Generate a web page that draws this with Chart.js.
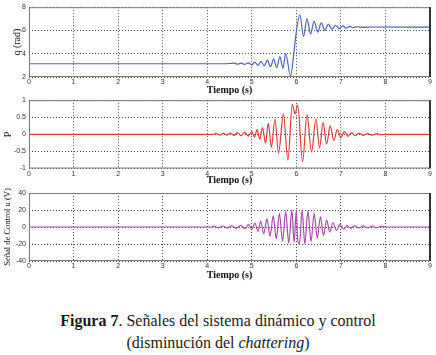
<!DOCTYPE html>
<html>
<head>
<meta charset="utf-8">
<script src="https://cdn.jsdelivr.net/npm/chart.js@4.4.1/dist/chart.umd.min.js"></script>
<style>
  body { margin: 0; background: #fff; width: 436px; height: 355px; position: relative; overflow: hidden; }
  canvas { position: absolute; left: 0; }
  #cap { position: absolute; top: 310px; left: 0; width: 436px; text-align: center;
         font: 16px "Liberation Serif", serif; line-height: 22px; color: #1a1a1a; }
</style>
</head>
<body>
<canvas id="chart_q" width="436" height="96" style="top:0px"></canvas>
<canvas id="chart_p" width="436" height="93" style="top:93px"></canvas>
<canvas id="chart_u" width="436" height="97" style="top:184px"></canvas>
<div id="cap"><b>Figura 7</b>. Señales del sistema dinámico y control<br>(disminución del <i>chattering</i>)</div>
<script>
// time axis (s)
var xTicks = [0, 1, 2, 3, 4, 5, 6, 7, 8, 9];

// q (rad), peaks and troughs
var qTime = [0, 4.4, 4.5, 4.6, 4.68, 4.76, 4.84, 4.92, 5.0, 5.07, 5.14, 5.21, 5.28, 5.35, 5.42, 5.49, 5.56, 5.63, 5.7, 5.76, 5.87,
             5.96, 6.0, 6.08, 6.16, 6.24, 6.32, 6.4, 6.48, 6.56, 6.64, 6.72, 6.8, 6.88, 6.96, 7.04, 7.12, 7.2, 7.28, 7.36, 7.5, 7.7, 9];
var qVal  = [3.14, 3.14, 3.16, 3.2, 3.1, 3.2, 3.08, 3.22, 3.05, 3.28, 3.0, 3.35, 2.95, 3.45, 2.88, 3.55, 2.8, 3.75, 2.75, 4.0, 2.1,
             4.6, 5.9, 7.35, 5.5, 7.0, 5.7, 6.8, 5.85, 6.65, 6.0, 6.55, 6.1, 6.45, 6.15, 6.4, 6.2, 6.35, 6.25, 6.32, 6.27, 6.3, 6.28];
var qTicks = [2, 4, 6, 8];

// P - middle panel
var pTime = [0, 4.1, 4.2, 4.28, 4.36, 4.44, 4.52, 4.6, 4.68, 4.76, 4.84, 4.92, 5.0, 5.06, 5.12, 5.18, 5.24, 5.31, 5.37, 5.44, 5.52,
             5.6, 5.71, 5.81, 5.91, 5.97, 6.03, 6.14, 6.24, 6.34, 6.44, 6.52, 6.6, 6.68, 6.76, 6.84, 6.92, 7.0, 7.08, 7.16, 7.24,
             7.32, 7.4, 7.5, 7.6, 7.7, 7.8, 7.9, 8.0, 9];
var pVal  = [0, 0, 0.02, -0.02, 0.03, -0.02, 0.04, -0.03, 0.05, -0.04, 0.06, -0.05, 0.08, -0.08, 0.14, -0.14, 0.2, -0.26, 0.33, -0.38, 0.45,
             -0.55, 0.6, -0.75, 0.88, 0.6, 0.85, -0.8, 0.58, -0.52, 0.45, -0.4, 0.35, -0.28, 0.25, -0.18, 0.14, -0.1, 0.08, -0.06, 0.05,
             -0.04, 0.03, -0.03, 0.02, -0.02, 0.02, -0.01, 0, 0];
var pTicks = [-1, -0.5, 0, 0.5, 1];

// u (V) - bottom panel
var uTime = [0, 4.1, 4.15, 4.25, 4.35, 4.45, 4.55, 4.65, 4.75, 4.85, 4.93, 5.0, 5.07, 5.14, 5.2, 5.27, 5.34, 5.41, 5.48, 5.55, 5.62,
             5.69, 5.76, 5.83, 5.9, 5.95, 6.0, 6.03, 6.07, 6.13, 6.19, 6.26, 6.33, 6.4, 6.47, 6.54, 6.61, 6.68, 6.75, 6.82, 6.9,
             6.98, 7.06, 7.14, 7.22, 7.3, 7.4, 7.5, 7.6, 7.7, 7.8, 7.9, 8.0, 9];
var uVal  = [0, 0, 1, -1, 1.2, -1, 1.5, -1.5, 2, -2, 3, -3, 4.5, -5, 7, -8, 10, -11, 13, -14, 16,
             -17, 18, -19, 20, -18, 20, -15, -20, 20, -20, 19, -17, 16, -13, 12, -10, 8, -6, 5, -4,
             3, -2.5, 2, -1.5, 1.5, -1, 1, -1, 1, -0.8, 0.8, 0, 0];
var uTicks = [-40, -20, 0, 20, 40];

function pairs(t, v) {
  return t.map(function (x, i) { return {x: x, y: v[i]}; });
}

// plot box like the matlab axes
var framePlugin = {
  id: 'frame',
  afterDraw: function (chart) {
    var a = chart.chartArea, ctx = chart.ctx;
    ctx.save();
    ctx.strokeStyle = '#7a7a7a';
    ctx.lineWidth = 1;
    ctx.strokeRect(a.left + 0.5, a.top + 0.5, a.right - a.left - 1, a.bottom - a.top - 1);
    ctx.strokeStyle = '#333';
    ctx.lineWidth = 2;
    ctx.beginPath();
    ctx.moveTo(a.right, a.top);
    ctx.lineTo(a.right, a.bottom);
    ctx.stroke();
    ctx.restore();
  }
};

function makePanel(id, time, vals, color, yTicks, yTitle, titleX, titleSize, xAxisHeight, padTop) {
  var yMin = yTicks[0], yMax = yTicks[yTicks.length - 1];
  return new Chart(document.getElementById(id), {
    type: 'line',
    data: {
      datasets: [{
        data: pairs(time, vals),
        borderColor: color,
        borderWidth: 1.2,
        pointRadius: 0,
        cubicInterpolationMode: 'monotone'
      }]
    },
    options: {
      animation: false,
      responsive: false,
      layout: { padding: { top: padTop, right: 6, bottom: 0, left: 0 } },
      plugins: { legend: { display: false }, tooltip: { enabled: false } },
      scales: {
        x: {
          type: 'linear',
          min: 0,
          max: 9,
          afterBuildTicks: function (s) { s.ticks = xTicks.map(function (v) { return {value: v}; }); },
          afterFit: function (s) { s.height = xAxisHeight; },
          ticks: { padding: 1, color: '#333', font: { family: 'Liberation Sans', size: 7 },
                   callback: function (v) { return String(v); } },
          grid: { color: '#222', lineWidth: 0.8, drawTicks: false },
          border: { display: false, dash: [1, 2] },
          title: { display: true, text: 'Tiempo (s)', color: '#111', padding: 0,
                   font: { family: 'Liberation Serif', size: 10, weight: 'bold' } }
        },
        y: {
          type: 'linear',
          min: yMin,
          max: yMax,
          afterBuildTicks: function (s) { s.ticks = yTicks.map(function (v) { return {value: v}; }); },
          afterFit: function (s) { s.width = 29; },
          ticks: { padding: 3, color: '#333', font: { family: 'Liberation Sans', size: 7 },
                   callback: function (v) { return String(v); } },
          grid: { color: '#222', lineWidth: 0.8, drawTicks: false },
          border: { display: false, dash: [1, 2] },
          title: { display: true, text: yTitle, color: '#111', padding: { top: titleX - 5, bottom: 0 },
                   font: { family: 'Liberation Serif', size: titleSize } }
        }
      }
    },
    plugins: [framePlugin]
  });
}

makePanel('chart_q', qTime, qVal, '#4a62b4', qTicks, 'q (rad)', 16, 10, 19, 6);
makePanel('chart_p', pTime, pVal, '#e23a3a', pTicks, 'P', 7, 10, 17.5, 7);
makePanel('chart_u', uTime, uVal, '#a84ca8', uTicks, 'Señal de Control u (V)', 8, 8.5, 20, 9);
</script>
</body>
</html>
